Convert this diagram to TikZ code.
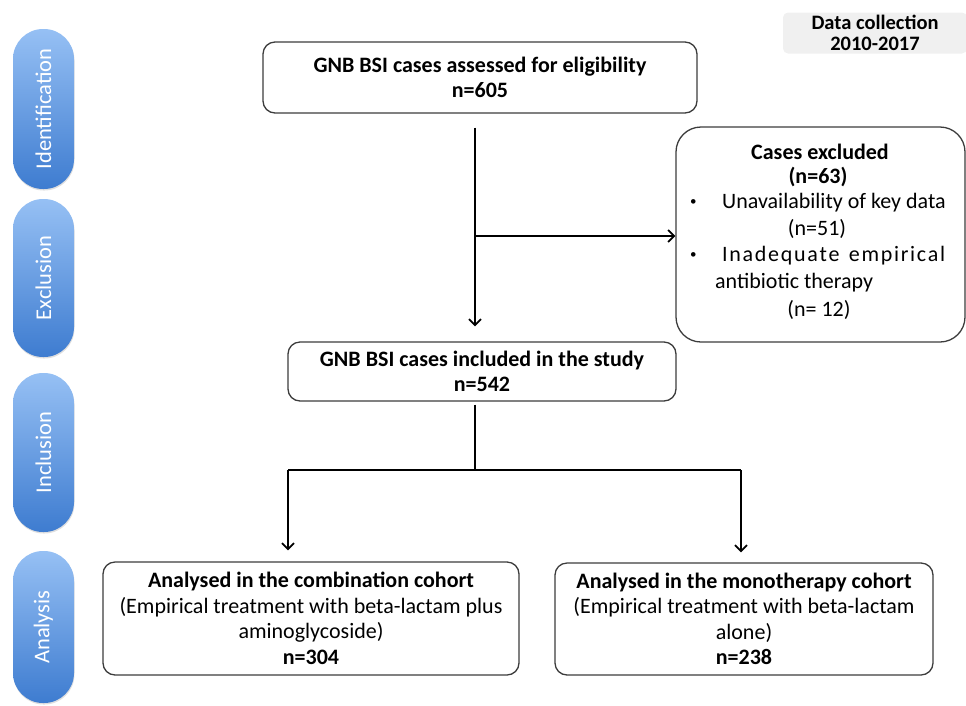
\documentclass[tikz,border=0pt]{standalone}
\usepackage{fontspec}
\setmainfont{Carlito}
\usetikzlibrary{arrows.meta,shadows}
\definecolor{pilltop}{RGB}{150,192,244}
\definecolor{pillbot}{RGB}{62,124,208}
\definecolor{boxline}{RGB}{60,60,60}
\definecolor{dcfill}{RGB}{240,240,240}
\newcommand{\fsz}{\fontsize{22}{25.5}\selectfont}
\begin{document}
\begin{tikzpicture}[x=1pt,y=-1pt,
  pill/.style={rounded corners=30pt, top color=pilltop, bottom color=pillbot, draw=none,
    minimum width=61pt, inner sep=0pt, text=white, font=\fontsize{22.5}{26}\selectfont,
    drop shadow={opacity=0.25,shadow xshift=0.5pt,shadow yshift=-1.5pt}},
  box/.style={draw=boxline, line width=1.3pt, rounded corners=12pt, align=center, font=\fsz, inner sep=0pt},
  etxt/.style={font=\fsz, inner sep=0pt},
  conn/.style={line width=1.8pt},
  arr/.style={conn, -{Straight Barb[length=6pt,width=12pt]}}]
\useasboundingbox (0,0) rectangle (966,705);

% phase pills
\node[pill, minimum height=160pt] (p1) at (43.5,109) {\rotatebox{90}{Identification}};
\node[pill, minimum height=158pt] (p2) at (43.5,278) {\rotatebox{90}{Exclusion}};
\node[pill, minimum height=159pt] (p3) at (43.5,452.5) {\rotatebox{90}{Inclusion}};
\node[pill, minimum height=152pt] (p4) at (43.5,627) {\rotatebox{90}{Analysis}};

% data collection
\node[fill=dcfill, rounded corners=5pt, minimum width=184pt, minimum height=41pt, align=center,
  font=\bfseries\fontsize{20.5}{20.5}\selectfont, inner sep=0pt] (dc) at (875,33) {Data collection\\2010-2017};

% main boxes
\node[box, minimum width=434pt, minimum height=71pt] (top) at (480,77.5)
  {\textbf{GNB BSI cases assessed for eligibility}\\\textbf{n=605}};
\node[box, minimum width=388pt, minimum height=59pt] (mid) at (482,371.5)
  {\textbf{GNB BSI cases included in the study}\\\textbf{n=542}};
\node[box, minimum width=416pt, minimum height=113pt] (ana1) at (311,618.5)
  {\textbf{Analysed in the combination cohort}\\(Empirical treatment with beta-lactam plus\\aminoglycoside)\\\textbf{n=304}};
\node[box, minimum width=378pt, minimum height=112pt] (ana2) at (744,619)
  {\textbf{Analysed in the monotherapy cohort}\\(Empirical treatment with beta-lactam\\alone)\\\textbf{n=238}};

% excluded box
\node[box, rounded corners=25pt, minimum width=289pt, minimum height=215pt] (excl) at (820.5,234.5) {};
\node[etxt, font=\fsz\bfseries] (e1) at (820,152) {Cases excluded};
\node[etxt, font=\fsz\bfseries] (e2) at (818,177) {(n=63)};
\node[etxt, font=\fontsize{13}{13}\selectfont, anchor=west] (b1) at (690,203) {•};
\node[etxt, anchor=west] (e3) at (722,203) {Unavailability of key data};
\node[etxt] (e4) at (817,229) {(n=51)};
\node[etxt, font=\fontsize{13}{13}\selectfont, anchor=west] (b2) at (690,256) {•};
\node[etxt, anchor=west] (e5) at (722,256) {\makebox[223pt][s]{I\hfill n\hfill a\hfill d\hfill e\hfill q\hfill u\hfill a\hfill t\hfill e\hspace{6pt plus 2fill}e\hfill m\hfill p\hfill i\hfill r\hfill i\hfill c\hfill a\hfill l}};
\node[etxt, anchor=west] (e6) at (715,283) {antibiotic therapy};
\node[etxt] (e7) at (819,310) {(n= 12)};

% connectors
\coordinate (spine) at (475,0);
\coordinate (branch) at (475,236);
\coordinate (split) at (475,470);
\coordinate (la) at (288,470);
\coordinate (ra) at (741,470);
\draw[arr, shorten <=14pt, shorten >=15pt] (top.south -| spine) -- (mid.north -| spine);
\draw[arr] (branch) -- (branch -| excl.west);
\draw[conn, shorten <=3pt] (mid.south -| split) -- (split);
\draw[conn] (la) -- (ra);
\draw[arr, shorten >=11pt] (la) -- (la |- ana1.north);
\draw[arr, shorten >=10pt] (ra) -- (ra |- ana2.north);
\end{tikzpicture}
\end{document}
